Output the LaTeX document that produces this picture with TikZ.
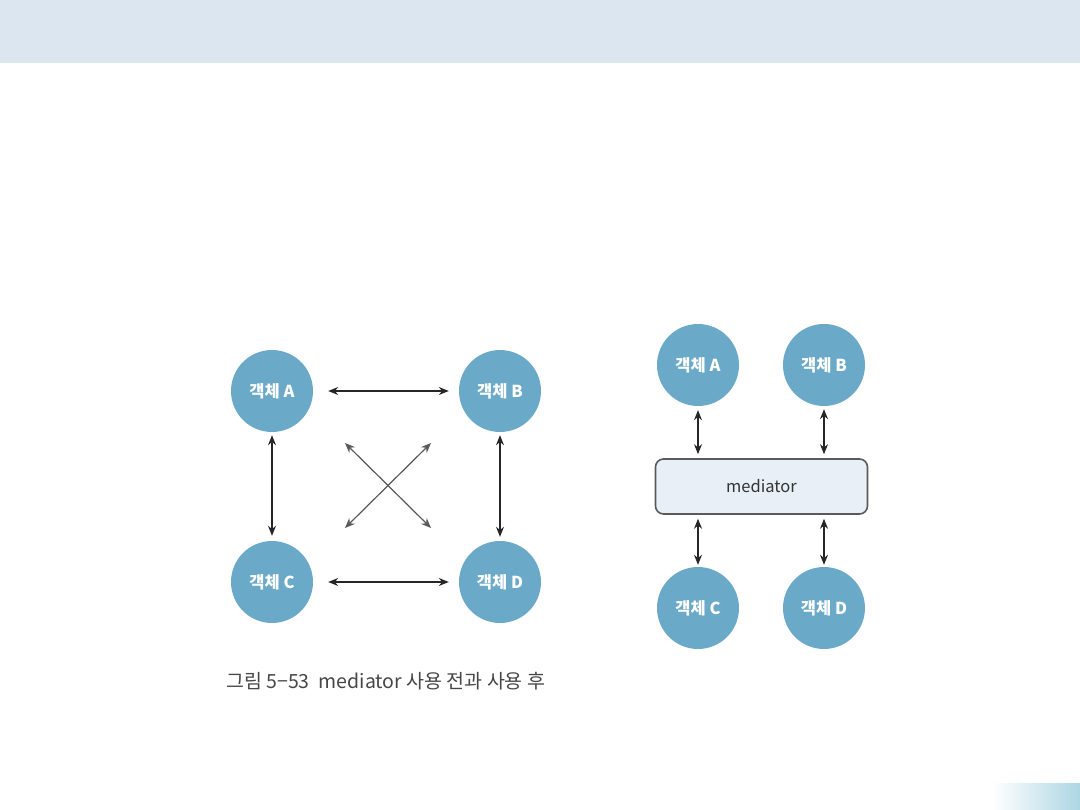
\documentclass[tikz,border=0pt]{standalone}
\usepackage{fontspec}
\setmainfont{Noto Sans CJK KR}
\usetikzlibrary{arrows.meta}
\definecolor{band}{HTML}{DCE6F1}
\definecolor{obj}{HTML}{6BA9C9}
\definecolor{medfill}{HTML}{E8EFF7}
\definecolor{medline}{HTML}{5A5A5A}
\definecolor{grad}{HTML}{ACD6E3}
\tikzset{
  objnode/.style={circle, fill=obj, minimum size=82pt, inner sep=0pt, text=white, font=\bfseries\fontsize{16.5}{16.5}\selectfont},
  medbox/.style={rectangle, rounded corners=8pt, draw=medline, line width=1.6pt, fill=medfill, minimum width=212pt, minimum height=55pt, text=black!80, font=\fontsize{16.5}{16.5}\selectfont},
  link/.style={{Stealth[length=10pt,width=8pt]}-{Stealth[length=10pt,width=8pt]}, line width=1.2pt, draw=black!85},
  diag/.style={link, draw=black!65},
}
\begin{document}
\begin{tikzpicture}[x=1pt,y=-1pt]
\useasboundingbox (0,0) rectangle (1080,810);
\fill[white] (0,0) rectangle (1080,810);
\fill[band] (0,0) rectangle (1080,63);
\shade[left color=white, right color=grad] (993,783) rectangle (1080,810);
% left diagram
\node[objnode] (lA) at (272,391) {객체 A};
\node[objnode] (lB) at (500,391) {객체 B};
\node[objnode] (lC) at (272,582) {객체 C};
\node[objnode] (lD) at (500,582) {객체 D};
\coordinate (d1) at (345,443);
\coordinate (d2) at (431,528);
\coordinate (d3) at (431,443);
\coordinate (d4) at (345,528);
\draw[link] ([xshift=15pt]lA.east) -- ([xshift=-10pt]lB.west);
\draw[link] ([xshift=15pt]lC.east) -- ([xshift=-10pt]lD.west);
\draw[link] ([yshift=-3pt]lA.south) -- ([yshift=5pt]lC.north);
\draw[link] ([yshift=-3pt]lB.south) -- ([yshift=4pt]lD.north);
\draw[diag] (d1) -- (d2);
\draw[diag] (d3) -- (d4);
\node[anchor=base west, inner sep=0pt, text=black!72, font=\fontsize{19.5}{19.5}\selectfont] (cap) at (226,688) {그림 5{\fontsize{19.5}{19.5}\selectfont −}53\hspace{9pt}mediator 사용 전과 사용 후};
% right diagram
\node[objnode] (rA) at (698,365) {객체 A};
\node[objnode] (rB) at (824,365) {객체 B};
\node[objnode] (rC) at (698,608) {객체 C};
\node[objnode] (rD) at (824,608) {객체 D};
\node[medbox] (med) at (761.5,486.5) {mediator};
\draw[link] ([yshift=-4pt]rA.south) -- ([yshift=4pt]med.north -| rA);
\draw[link] ([yshift=-3pt]rB.south) -- ([yshift=4pt]med.north -| rB);
\draw[link] ([yshift=-4pt]med.south -| rC) -- ([yshift=2pt]rC.north);
\draw[link] ([yshift=-4pt]med.south -| rD) -- ([yshift=2pt]rD.north);
\end{tikzpicture}
\end{document}
